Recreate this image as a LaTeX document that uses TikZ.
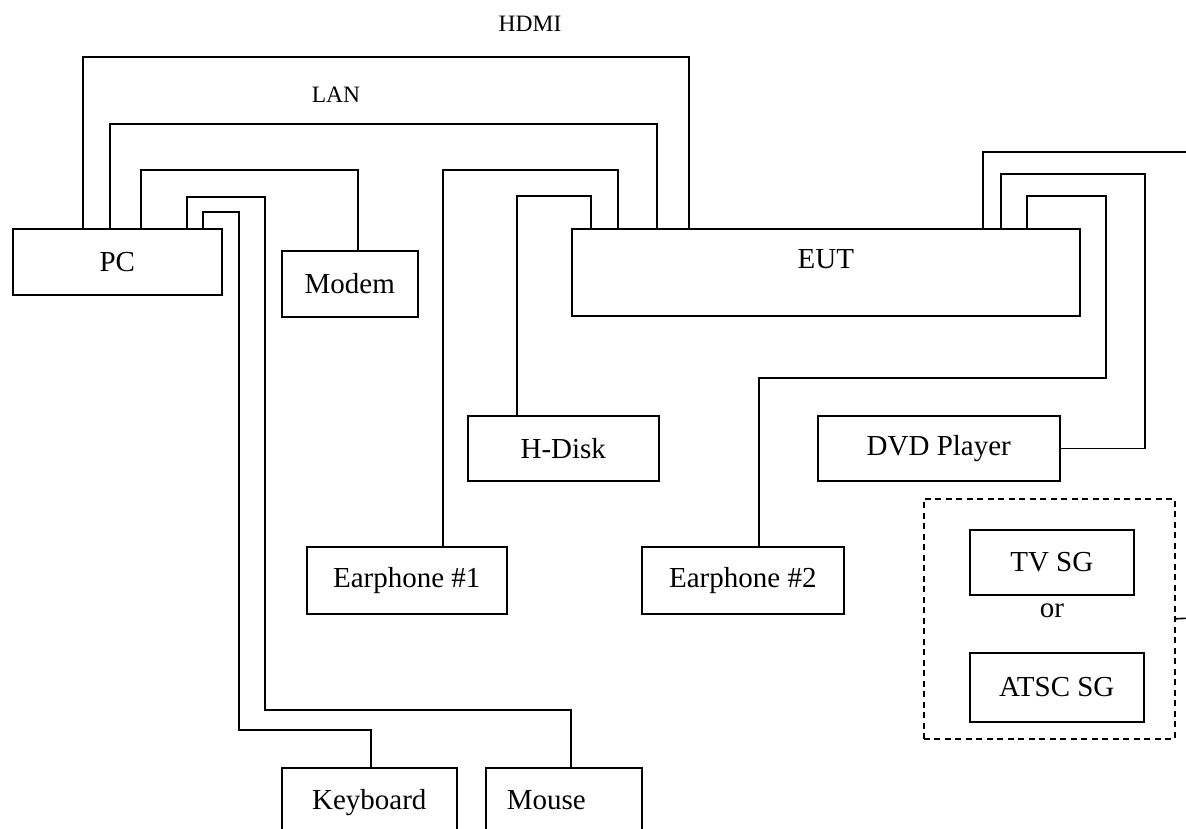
\documentclass[tikz,border=0pt]{standalone}
\usepackage{fontspec}
\setmainfont{Liberation Serif}
\begin{document}
\begin{tikzpicture}[x=1pt,y=-1pt,
  box/.style={draw,line width=1.6pt,inner sep=0pt,anchor=north west,font=\fontsize{29}{34}\selectfont},
  evenbox/.style={box,text height=20pt,text depth=6pt},
  sgbox/.style={draw,line width=1.6pt,inner sep=0pt,anchor=north west,dash pattern=on 6pt off 4.5pt},
  lbl/.style={inner sep=0pt,font=\fontsize{23.5}{28}\selectfont},
  wire/.style={line width=1.6pt}]
\clip (0,0) rectangle (1186,828);
\useasboundingbox (0,0) rectangle (1186,828);
\fill[white] (0,0) rectangle (1186,828);
% boxes
\node[box,minimum width=209pt,minimum height=66pt] (pc) at (12,228) {PC};
\node[box,minimum width=136pt,minimum height=66pt] (modem) at (281,250) {Modem};
\node[box,minimum width=508pt,minimum height=87pt,label={[font=\fontsize{29}{34}\selectfont,yshift=13pt]center:EUT}] (eut) at (571,228) {};
\node[box,minimum width=191pt,minimum height=65pt] (hdisk) at (467,415) {H-Disk};
\node[box,minimum width=242pt,minimum height=65pt] (dvd) at (817,415) {DVD Player};
\node[box,minimum width=200pt,minimum height=67pt] (ear1) at (306,546) {Earphone \#1};
\node[box,minimum width=202pt,minimum height=67pt] (ear2) at (641,546) {Earphone \#2};
\node[evenbox,minimum width=175pt,minimum height=70pt] (kbd) at (281,767) {Keyboard};
\node[evenbox,minimum width=156pt,minimum height=70pt,text width=156pt,align=left] (mouse) at (485,767) {\hspace*{21pt}Mouse};
\node[sgbox,minimum width=251pt,minimum height=240pt] (sg) at (923,498) {};
\node[box,minimum width=164pt,minimum height=65pt] (tvsg) at (969,529) {TV SG};
\node[box,minimum width=174pt,minimum height=69pt] (atsc) at (969,652) {ATSC SG};
\node[inner sep=0pt,font=\fontsize{29}{34}\selectfont] (or) at (1052,611) {or};
% labels
\node[lbl] (hdmi) at (530,24) {HDMI};
\node[lbl] (lan) at (336,95) {LAN};
% free ends
\coordinate (offa) at (1192,152);
\coordinate (offb) at (1192,618);
% connectors
\draw[wire] ([xshift=71pt]pc.north west) |- (689,57) -- ([xshift=118pt]eut.north west);
\draw[wire] ([xshift=98pt]pc.north west) |- (657,124) -- ([xshift=86pt]eut.north west);
\draw[wire] ([xshift=129pt]pc.north west) |- (358,170) -- ([xshift=77pt]modem.north west);
\draw[wire] ([xshift=175pt]pc.north west) |- (265,197) |- (571,710) -- ([xshift=86pt]mouse.north west);
\draw[wire] ([xshift=191pt]pc.north west) |- (239,212) |- (371,730) -- ([xshift=90pt]kbd.north west);
\draw[wire] ([xshift=137pt]ear1.north west) |- (618,170) -- ([xshift=47pt]eut.north west);
\draw[wire] ([xshift=50pt]hdisk.north west) |- (591,196) -- ([xshift=20pt]eut.north west);
\draw[wire] ([xshift=412pt]eut.north west) |- (offa);
\draw[wire] ([xshift=430pt]eut.north west) |- (1145,174) |- (dvd.east);
\draw[wire] ([xshift=456pt]eut.north west) |- (1106,196) |- (759,378) -- ([xshift=118pt]ear2.north west);
\draw[wire] (sg.east) -- (offb);
\end{tikzpicture}
\end{document}
